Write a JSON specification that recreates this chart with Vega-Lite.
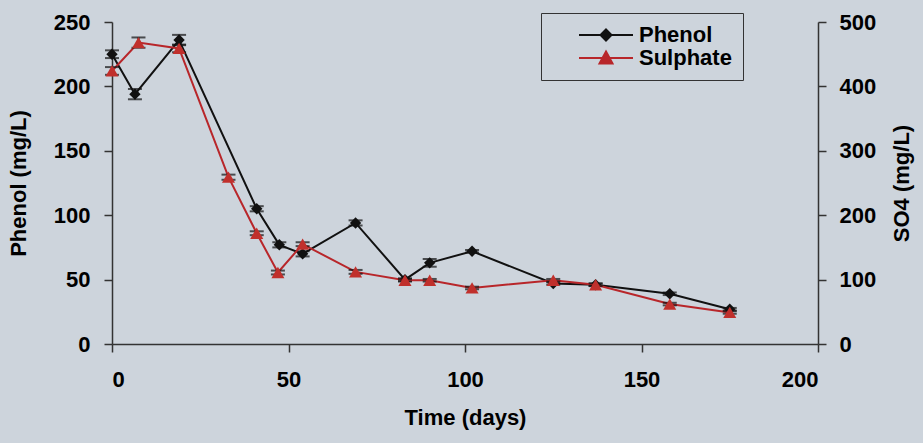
{
  "$schema": "https://vega.github.io/schema/vega-lite/v6.json",
  "width": 706,
  "height": 322,
  "autosize": {"type": "none"},
  "padding": {"left": 112, "top": 22, "right": 105, "bottom": 99},
  "background": "#cdd4dc",
  "config": {
    "view": {"stroke": null, "fill": "#cdd4dc"},
    "font": "Liberation Sans",
    "axis": {
      "labelFont": "Liberation Sans",
      "labelFontSize": 22,
      "labelFontWeight": "bold",
      "labelColor": "#000000",
      "titleFont": "Liberation Sans",
      "titleFontSize": 22,
      "titleFontWeight": "bold",
      "titleColor": "#000000",
      "domainColor": "#333333",
      "domainWidth": 1.5,
      "tickColor": "#333333",
      "tickWidth": 1.5,
      "tickSize": 8,
      "grid": false
    }
  },
  "data": {
    "values": [
      {"day": 0, "series": "Phenol", "value": 225, "err": 3},
      {"day": 6.5, "series": "Phenol", "value": 194, "err": 4},
      {"day": 19, "series": "Phenol", "value": 236, "err": 4},
      {"day": 41, "series": "Phenol", "value": 105, "err": 2},
      {"day": 47.4, "series": "Phenol", "value": 77, "err": 2},
      {"day": 54, "series": "Phenol", "value": 70, "err": 2},
      {"day": 69, "series": "Phenol", "value": 94, "err": 2},
      {"day": 83, "series": "Phenol", "value": 50, "err": 1},
      {"day": 90, "series": "Phenol", "value": 63, "err": 3},
      {"day": 102, "series": "Phenol", "value": 72, "err": 1},
      {"day": 125, "series": "Phenol", "value": 47, "err": 1},
      {"day": 137, "series": "Phenol", "value": 46, "err": 1},
      {"day": 158, "series": "Phenol", "value": 39, "err": 1},
      {"day": 175, "series": "Phenol", "value": 27, "err": 1},
      {"day": 0, "series": "Sulphate", "value": 424, "err": 6},
      {"day": 7.5, "series": "Sulphate", "value": 468, "err": 8},
      {"day": 19, "series": "Sulphate", "value": 459, "err": 6},
      {"day": 33, "series": "Sulphate", "value": 259, "err": 4},
      {"day": 41, "series": "Sulphate", "value": 172, "err": 3},
      {"day": 47, "series": "Sulphate", "value": 111, "err": 3},
      {"day": 54, "series": "Sulphate", "value": 155, "err": 3},
      {"day": 69, "series": "Sulphate", "value": 112, "err": 3},
      {"day": 83, "series": "Sulphate", "value": 99, "err": 2},
      {"day": 90, "series": "Sulphate", "value": 99, "err": 2},
      {"day": 102, "series": "Sulphate", "value": 87, "err": 2},
      {"day": 125, "series": "Sulphate", "value": 99, "err": 2},
      {"day": 137, "series": "Sulphate", "value": 92, "err": 2},
      {"day": 158, "series": "Sulphate", "value": 62, "err": 2},
      {"day": 175, "series": "Sulphate", "value": 49, "err": 2}
    ]
  },
  "encoding": {
    "x": {
      "field": "day",
      "type": "quantitative",
      "scale": {"domain": [0, 200], "nice": false},
      "axis": {"values": [0, 50, 100, 150, 200], "title": "Time (days)", "labelPadding": 17, "titlePadding": 17}
    }
  },
  "layer": [
    {
      "transform": [{"filter": "datum.series === 'Phenol'"}],
      "encoding": {
        "y": {
          "field": "value",
          "type": "quantitative",
          "scale": {"domain": [0, 250], "nice": false},
          "axis": {"orient": "left", "values": [0, 50, 100, 150, 200, 250], "title": "Phenol (mg/L)", "labelPadding": 14, "titlePadding": 23}
        }
      },
      "layer": [
        {
          "mark": {"type": "line", "strokeWidth": 2},
          "encoding": {
            "color": {
              "field": "series",
              "type": "nominal",
              "scale": {"domain": ["Phenol", "Sulphate"], "range": ["#111111", "#b8262a"]},
              "legend": {
                "title": "\u00a0\u00a0\u00a0\u00a0\u00a0",
                "titleOrient": "right",
                "titleFontSize": 22,
                "titlePadding": 0,
                "orient": "none",
                "legendX": 429,
                "legendY": -9,
                "padding": 11,
                "strokeColor": "#333333",
                "fillColor": "#cdd4dc",
                "symbolSize": 400,
                "symbolOffset": 43,
                "labelOffset": 22,
                "labelFont": "Liberation Sans",
                "labelFontSize": 22,
                "labelFontWeight": "bold",
                "labelColor": "#000000",
                "rowPadding": 1,
                "encode": {
                  "symbols": {
                    "update": {
                      "shape": {"signal": "datum.value === 'Phenol' ? 'M-2.7,0H2.7M0,-0.55L0.55,0L0,0.55L-0.55,0Z' : 'M-2.7,0H2.7M0,-0.65L0.65,0.55L-0.65,0.55Z'"},
                      "fill": {"signal": "datum.value === 'Phenol' ? '#111111' : '#b8262a'"},
                      "stroke": {"signal": "datum.value === 'Phenol' ? '#111111' : '#b8262a'"},
                      "strokeWidth": {"value": 2},
                      "opacity": {"value": 1}
                    }
                  }
                }
              }
            }
          }
        },
        {
          "mark": {"type": "errorbar", "ticks": {"size": 14, "color": "#111111", "strokeWidth": 2}, "color": "#111111", "thickness": 2},
          "encoding": {
            "y": {"field": "value", "type": "quantitative", "title": "Phenol (mg/L)"},
            "yError": {"field": "err"}
          }
        },
        {
          "mark": {"type": "point", "shape": "diamond", "filled": true, "size": 130, "color": "#111111", "opacity": 1}
        }
      ]
    },
    {
      "transform": [{"filter": "datum.series === 'Sulphate'"}],
      "encoding": {
        "y": {
          "field": "value",
          "type": "quantitative",
          "scale": {"domain": [0, 500], "nice": false},
          "axis": {"orient": "right", "values": [0, 100, 200, 300, 400, 500], "title": "SO4 (mg/L)", "titleAngle": 270, "titleBaseline": "bottom", "labelPadding": 13, "titlePadding": 38}
        }
      },
      "layer": [
        {
          "mark": {"type": "line", "strokeWidth": 2},
          "encoding": {
            "color": {"field": "series", "type": "nominal"}
          }
        },
        {
          "mark": {"type": "errorbar", "ticks": {"size": 14, "color": "#111111", "strokeWidth": 2}, "color": "#111111", "thickness": 2},
          "encoding": {
            "y": {"field": "value", "type": "quantitative", "title": "SO4 (mg/L)"},
            "yError": {"field": "err"}
          }
        },
        {
          "mark": {"type": "point", "shape": "triangle-up", "filled": true, "size": 170, "color": "#c0302c", "opacity": 1}
        }
      ]
    }
  ],
  "resolve": {"scale": {"y": "independent"}}
}
